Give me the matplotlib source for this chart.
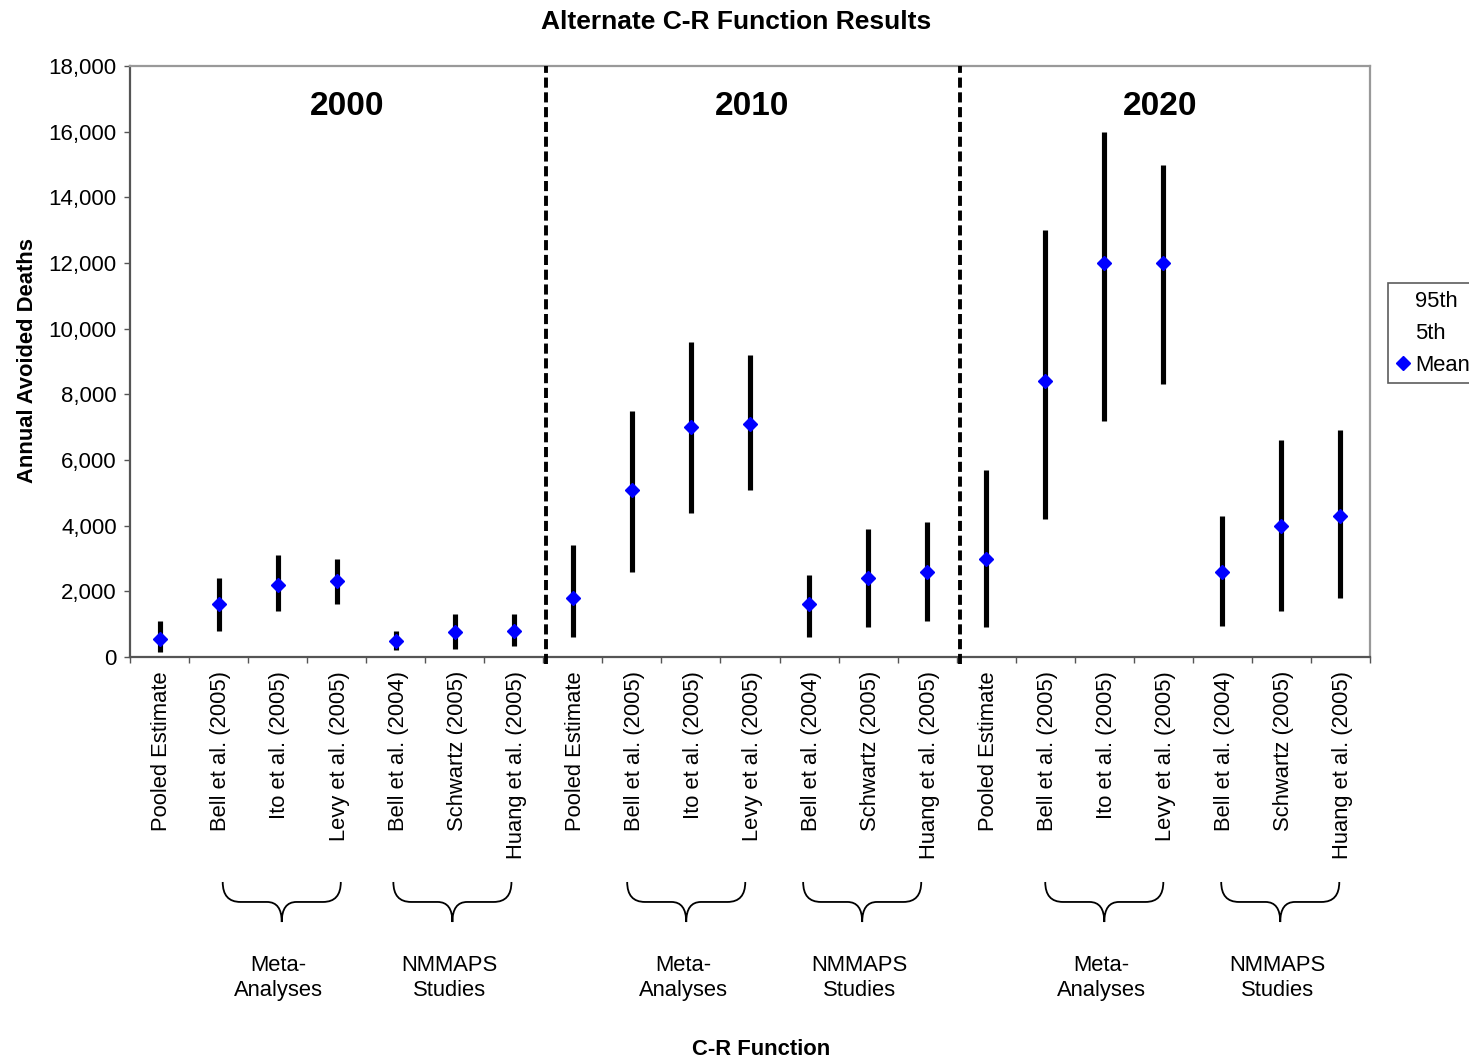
import numpy as np
import matplotlib
matplotlib.use('Agg')
import matplotlib.pyplot as plt
from matplotlib.path import Path
from matplotlib.patches import PathPatch
from matplotlib.lines import Line2D
from matplotlib.transforms import blended_transform_factory
from matplotlib.ticker import FuncFormatter

plt.rcParams['font.family'] = ['Liberation Sans', 'DejaVu Sans']

years = ['2000', '2010', '2020']
studies = ['Pooled Estimate', 'Bell et al. (2005)', 'Ito et al. (2005)',
           'Levy et al. (2005)', 'Bell et al. (2004)', 'Schwartz (2005)',
           'Huang et al. (2005)']

# mean, 5th and 95th percentile for each year
mean_2000 = [550, 1600, 2200, 2300, 500, 750, 800]
p5_2000 = [150, 800, 1400, 1600, 200, 250, 350]
p95_2000 = [1100, 2400, 3100, 3000, 800, 1300, 1300]

mean_2010 = [1800, 5100, 7000, 7100, 1600, 2400, 2600]
p5_2010 = [600, 2600, 4400, 5100, 600, 900, 1100]
p95_2010 = [3400, 7500, 9600, 9200, 2500, 3900, 4100]

mean_2020 = [3000, 8400, 12000, 12000, 2600, 4000, 4300]
p5_2020 = [900, 4200, 7200, 8300, 950, 1400, 1800]
p95_2020 = [5700, 13000, 16000, 15000, 4300, 6600, 6900]

group_names = ['Meta-\nAnalyses', 'NMMAPS\nStudies']
group_members = [(1, 3), (4, 6)]

mean = mean_2000 + mean_2010 + mean_2020
p5 = p5_2000 + p5_2010 + p5_2020
p95 = p95_2000 + p95_2010 + p95_2020
labels = studies * 3
n = len(studies)
x = np.arange(len(labels))

fig = plt.figure(figsize=(14.69, 10.62), dpi=100)
ax = fig.add_axes([130 / 1469, 1 - 657 / 1062, 1240 / 1469, 591 / 1062])

ax.vlines(x, p5, p95, color='black', lw=3.7, zorder=2)
ax.plot(x, mean, 'D', color='#0000ff', ms=7, zorder=3)

ax.set_xlim(-0.5, len(labels) - 0.5)
ax.set_ylim(0, 18000)

ax.set_xticks(x + 0.04)
ax.set_xticklabels(labels, rotation=90, fontsize=15.8)
ax.set_xticks(np.arange(-0.5, len(labels), 1), minor=True)
ax.tick_params(axis='x', which='major', length=0, pad=10)
ax.tick_params(axis='x', which='minor', length=4.5, width=1, color='#555555')

ax.set_yticks(range(0, 18001, 2000))
ax.yaxis.set_major_formatter(FuncFormatter(lambda v, p: f'{v:,.0f}'))
ax.tick_params(axis='y', length=4.5, width=1, color='#555555', pad=5,
               labelsize=16)

for side in ['left', 'bottom']:
    ax.spines[side].set_color('#555555')
    ax.spines[side].set_linewidth(1.6)
for side in ['top', 'right']:
    ax.spines[side].set_color('#999999')
    ax.spines[side].set_linewidth(1.6)

# year separators
for k in range(1, len(years)):
    ax.axvline(k * n - 0.45, ymin=-0.012, ymax=1, color='black', lw=2.8,
               dashes=(2.6, 1.2), clip_on=False, zorder=4)

ty = blended_transform_factory(ax.transData, ax.transAxes)
year_x = [3.17, 10.03, 16.95]
for xp, yr in zip(year_x, years):
    ax.text(xp, 0.932, yr, transform=ty, ha='center',
            va='center', fontsize=24, fontweight='bold')

# curly braces under study groups
tf = blended_transform_factory(ax.transData, fig.transFigure)


def brace(x0, x1, ytop=0.1695, ymid=0.1507, ybot=0.1318, r=0.3, rm=0.25):
    xm = (x0 + x1) / 2
    verts = [(x0, ytop), (x0, ymid), (x0 + r, ymid),
             (xm - rm, ymid), (xm, ymid), (xm, ybot),
             (xm, ymid), (xm + rm, ymid),
             (x1 - r, ymid), (x1, ymid), (x1, ytop)]
    codes = [Path.MOVETO, Path.CURVE3, Path.CURVE3,
             Path.LINETO, Path.CURVE3, Path.CURVE3,
             Path.CURVE3, Path.CURVE3,
             Path.LINETO, Path.CURVE3, Path.CURVE3]
    fig.add_artist(PathPatch(Path(verts, codes), transform=tf, fill=False,
                             lw=1.3, color='black'))


# small placement shifts of each brace as drawn in the original
brace_shift = [[0.07, -0.04], [-0.08, -0.1], [0.0, -0.02]]
for k in range(len(years)):
    for j, (name, (a, b)) in enumerate(zip(group_names, group_members)):
        x0 = k * n + a + brace_shift[k][j]
        x1 = k * n + b + brace_shift[k][j]
        brace(x0, x1)
        fig.text((x0 + x1) / 2 - 0.05, 0.0795, name, transform=tf,
                 ha='center', va='center', fontsize=15.8, linespacing=1.25)

fig.text(0.501, 0.979, 'Alternate C-R Function Results', ha='center',
         va='center', fontsize=19, fontweight='bold')
fig.text(0.518, 0.0122, 'C-R Function', ha='center', va='center',
         fontsize=15.8, fontweight='bold')
fig.text(0.0185, 0.661, 'Annual Avoided Deaths', ha='center', va='center',
         rotation=90, fontsize=15.8, fontweight='bold')

handles = [Line2D([], [], lw=0, marker=None),
           Line2D([], [], lw=0, marker=None),
           Line2D([], [], lw=0, marker='D', color='#0000ff', ms=7)]
leg = fig.legend(handles, ['95th', '5th', 'Mean'], loc='upper left',
                 bbox_to_anchor=(1388 / 1469, 1 - 283 / 1062),
                 bbox_transform=fig.transFigure, fontsize=15.8,
                 frameon=True, fancybox=False, borderpad=0.35,
                 handlelength=0.7, handletextpad=0.2, labelspacing=0.5,
                 borderaxespad=0)
leg.get_frame().set_edgecolor('#333333')
leg.get_frame().set_linewidth(1.2)

fig.savefig('out.png', dpi=100)
